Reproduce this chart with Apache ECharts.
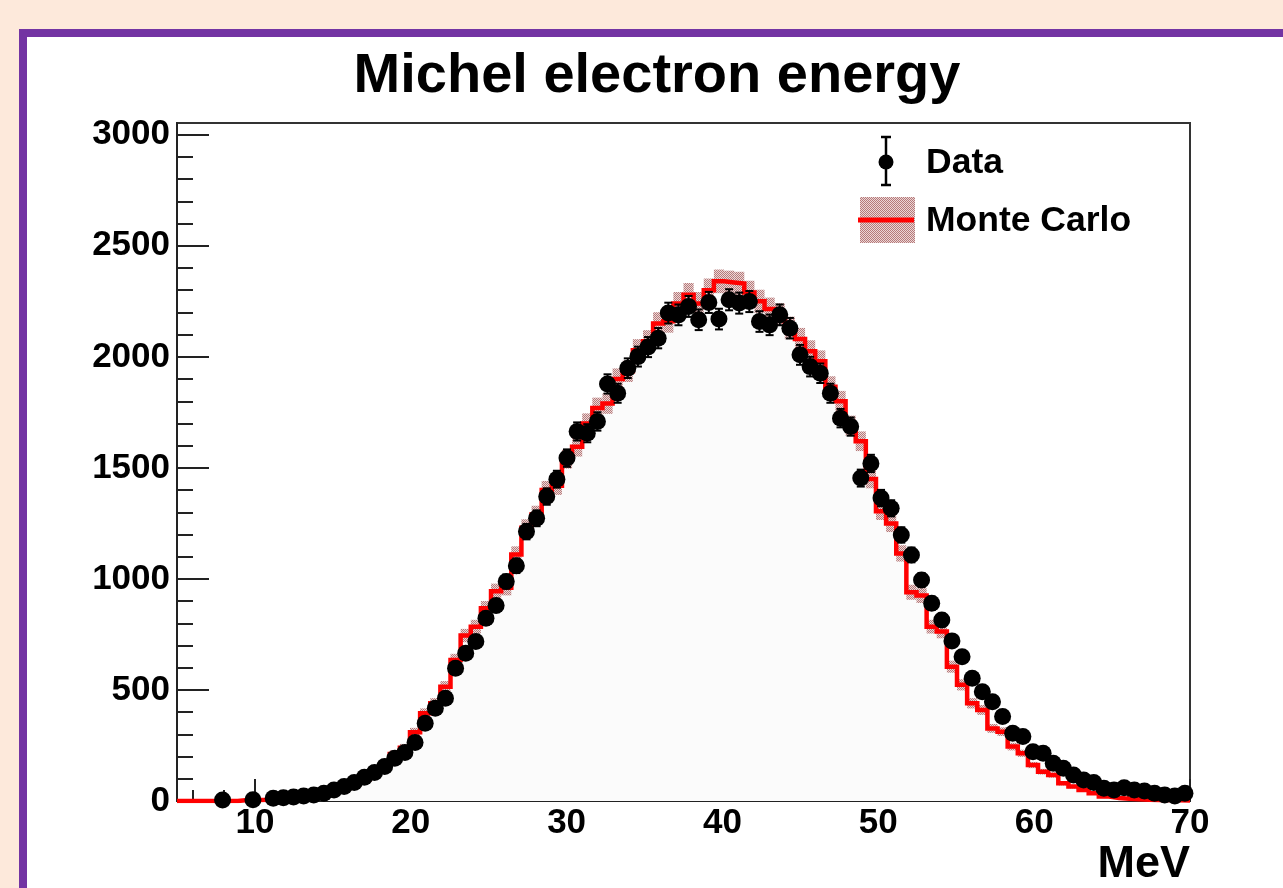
<!DOCTYPE html>
<html>
<head>
<meta charset="utf-8">
<script src="https://cdn.jsdelivr.net/npm/echarts@6/dist/echarts.min.js"></script>
<style>
html,body{margin:0;padding:0;background:#fde9db;overflow:hidden;}
#chart{width:1283px;height:888px;}
</style>
</head>
<body>
<div id="chart"></div>
<script>
// ---- histogram binning ----
const binLow = 5;
const binHigh = 70;
const nBins = 100;

// ---- Data counts per bin (null = empty bin, not drawn) ----
const dataCounts = [
  null, null, null, null, 4, null, null, 6, null, 12,
  15, 18, 22, 27, 35, 50, 65, 83, 107, 128,
  155, 192, 218, 263, 350, 418, 463, 598, 665, 718,
  823, 880, 988, 1059, 1213, 1273, 1371, 1449, 1544, 1664,
  1656, 1709, 1878, 1836, 1949, 2001, 2044, 2084, 2197, 2189,
  2227, 2167, 2245, 2170, 2257, 2242, 2249, 2159, 2144, 2189,
  2129, 2009, 1956, 1926, 1836, 1724, 1686, 1454, 1520, 1364,
  1318, 1198, 1108, 995, 890, 815, 721, 650, 553, 492,
  447, 380, 305, 290, 222, 215, 170, 147, 117, 95,
  83, 57, 50, 60, 50, 45, 35, 27, 22, 35
];

// ---- Monte Carlo counts per bin ----
const mcCounts = [
  0, 0, 0, 0, 0, 0, 5, 5, 6, 10,
  12, 15, 20, 26, 34, 45, 58, 76, 98, 124,
  160, 212, 240, 310, 395, 440, 515, 635, 745, 785,
  868, 945, 960, 1110, 1230, 1290, 1400, 1420, 1540, 1595,
  1700, 1770, 1790, 1900, 1935, 2030, 2070, 2150, 2160, 2240,
  2280, 2240, 2300, 2340, 2335, 2330, 2290, 2250, 2215, 2190,
  2130, 2080, 2025, 1980, 1865, 1800, 1690, 1620, 1450, 1305,
  1250, 1115, 940, 925, 785, 763, 605, 523, 440, 410,
  327, 312, 245, 215, 162, 132, 117, 80, 65, 50,
  35, 20, 14, 10, 8, 6, 5, 4, 3, 2
];

// ---- axis ticks ----
const xMajorTicks = [10, 20, 30, 40, 50, 60, 70];
const xMinorTicks = [6, 8, 12, 14, 16, 18, 22, 24, 26, 28, 32, 34, 36, 38, 42, 44, 46, 48, 52, 54, 56, 58, 62, 64, 66, 68];
const yMajorTicks = [0, 500, 1000, 1500, 2000, 2500, 3000];
const yMinorTicks = [100, 200, 300, 400, 600, 700, 800, 900, 1100, 1200, 1300, 1400, 1600, 1700, 1800, 1900, 2100, 2200, 2300, 2400, 2600, 2700, 2800, 2900];

const titleText = 'Michel electron energy';
const xAxisTitle = 'MeV';
const legendData = 'Data';
const legendMC = 'Monte Carlo';

// ---- derived ----
const binW = (binHigh - binLow) / nBins;
const centers = dataCounts.map((_, i) => binLow + (i + 0.5) * binW);
const dataPoints = [];
dataCounts.forEach((v, i) => { if (v !== null) dataPoints.push([centers[i], v]); });
const bandItems = [];
mcCounts.forEach((v, i) => { if (v > 0) bandItems.push([centers[i], v]); });
const stepPts = [];
mcCounts.forEach((v, i) => {
  stepPts.push([binLow + i * binW, v]);
  stepPts.push([binLow + (i + 1) * binW, v]);
});

// hatched pattern for MC error band
const pat = document.createElement('canvas');
pat.width = 2; pat.height = 2;
const pg = pat.getContext('2d');
pg.fillStyle = '#ecd6d6'; pg.fillRect(0, 0, 2, 2);
pg.fillStyle = '#b57a7a'; pg.fillRect(0, 0, 1, 1); pg.fillRect(1, 1, 1, 1);
const patFill = { image: pat, repeat: 'repeat' };

const FONT = '"Liberation Sans", Arial, Helvetica, sans-serif';
const yMax = 3053;
const plain = v => String(v);

const chart = echarts.init(document.getElementById('chart'), null, { renderer: 'canvas' });

const option = {
  animation: false,
  backgroundColor: '#fde9db',
  grid: {
    left: 177, right: 93, top: 123, bottom: 87,
    show: true, backgroundColor: '#ffffff', borderColor: '#333333', borderWidth: 2
  },
  xAxis: [
    {
      type: 'value', min: binLow, max: binHigh, position: 'bottom',
      axisLine: { show: true, onZero: false, lineStyle: { color: '#222', width: 2 } },
      axisTick: { show: true, inside: true, length: 22, customValues: xMajorTicks, lineStyle: { color: '#222', width: 2 } },
      axisLabel: { show: true, customValues: xMajorTicks, formatter: plain, margin: 5, color: '#000', fontSize: 35, fontWeight: 'bold', fontFamily: FONT },
      splitLine: { show: false }
    },
    {
      type: 'value', min: binLow, max: binHigh, position: 'bottom', offset: 0,
      axisLine: { show: false, onZero: false },
      axisTick: { show: true, inside: true, length: 11, customValues: xMinorTicks, lineStyle: { color: '#222', width: 2 } },
      axisLabel: { show: false },
      splitLine: { show: false }
    }
  ],
  yAxis: [
    {
      type: 'value', min: 0, max: yMax, position: 'left',
      axisLine: { show: true, onZero: false, lineStyle: { color: '#222', width: 2 } },
      axisTick: { show: true, inside: true, length: 32, customValues: yMajorTicks, lineStyle: { color: '#222', width: 2 } },
      axisLabel: { show: true, customValues: yMajorTicks, formatter: plain, margin: 7, color: '#000', fontSize: 35, fontWeight: 'bold', fontFamily: FONT },
      splitLine: { show: false }
    },
    {
      type: 'value', min: 0, max: yMax, position: 'left', offset: 0,
      axisLine: { show: false, onZero: false },
      axisTick: { show: true, inside: true, length: 16, customValues: yMinorTicks, lineStyle: { color: '#222', width: 2 } },
      axisLabel: { show: false },
      splitLine: { show: false }
    }
  ],
  series: [
    {
      name: 'MC fill', type: 'line', xAxisIndex: 0, yAxisIndex: 0,
      data: stepPts, symbol: 'none', lineStyle: { width: 0 },
      areaStyle: { color: '#fbfbfb', opacity: 1 }, z: 1, silent: true
    },
    {
      name: 'MC band', type: 'custom', xAxisIndex: 0, yAxisIndex: 0, z: 2,
      data: bandItems, clip: true,
      encode: { x: 0, y: 1 },
      renderItem: function (params, api) {
        const c = api.value(0), v = api.value(1);
        const e = 1.1 * Math.sqrt(v);
        const p1 = api.coord([c - binW / 2, v + e]);
        const p2 = api.coord([c + binW / 2, v - e]);
        return {
          type: 'rect',
          shape: { x: p1[0], y: p1[1], width: p2[0] - p1[0], height: p2[1] - p1[1] },
          style: { fill: patFill }
        };
      }
    },
    {
      name: 'Monte Carlo', type: 'line', xAxisIndex: 0, yAxisIndex: 0, z: 3,
      data: stepPts, symbol: 'none',
      lineStyle: { color: '#ff0000', width: 4.5, join: 'miter', cap: 'butt', opacity: 1 }
    },
    {
      name: 'Data errors', type: 'custom', xAxisIndex: 0, yAxisIndex: 0, z: 4,
      data: dataPoints, encode: { x: 0, y: 1 },
      renderItem: function (params, api) {
        const c = api.value(0), v = api.value(1);
        const e = Math.sqrt(v);
        const t = api.coord([c, v + e]);
        const b = api.coord([c, Math.max(0, v - e)]);
        const cap = 4;
        const st = { stroke: '#000', lineWidth: 2 };
        return {
          type: 'group', children: [
            { type: 'line', shape: { x1: t[0], y1: t[1], x2: b[0], y2: b[1] }, style: st },
            { type: 'line', shape: { x1: t[0] - cap, y1: t[1], x2: t[0] + cap, y2: t[1] }, style: st },
            { type: 'line', shape: { x1: b[0] - cap, y1: b[1], x2: b[0] + cap, y2: b[1] }, style: st }
          ]
        };
      }
    },
    {
      name: 'Data', type: 'scatter', xAxisIndex: 0, yAxisIndex: 0, z: 5,
      data: dataPoints, symbol: 'circle', symbolSize: 17,
      itemStyle: { color: '#000', opacity: 1 }
    }
  ],
  graphic: [
    { type: 'rect', z: -10, shape: { x: 23, y: 33, width: 1300, height: 900 },
      style: { fill: '#ffffff', stroke: '#7334a3', lineWidth: 8 } },
    { type: 'text', z: 10, x: 657, y: 77,
      style: { text: titleText, fill: '#000', font: 'bold 56px ' + FONT, textAlign: 'center', textVerticalAlign: 'middle' } },
    { type: 'text', z: 10, x: 1190, y: 865,
      style: { text: xAxisTitle, fill: '#000', font: 'bold 45px ' + FONT, textAlign: 'right', textVerticalAlign: 'middle' } },
    // legend: Data
    { type: 'line', z: 10, shape: { x1: 886, y1: 137, x2: 886, y2: 185 }, style: { stroke: '#000', lineWidth: 2.5 } },
    { type: 'line', z: 10, shape: { x1: 881, y1: 137, x2: 891, y2: 137 }, style: { stroke: '#000', lineWidth: 2.5 } },
    { type: 'line', z: 10, shape: { x1: 881, y1: 185, x2: 891, y2: 185 }, style: { stroke: '#000', lineWidth: 2.5 } },
    { type: 'circle', z: 10, shape: { cx: 886, cy: 162, r: 7.5 }, style: { fill: '#000' } },
    { type: 'text', z: 10, x: 926, y: 163,
      style: { text: legendData, fill: '#000', font: 'bold 35.5px ' + FONT, textAlign: 'left', textVerticalAlign: 'middle' } },
    // legend: Monte Carlo
    { type: 'rect', z: 10, shape: { x: 860, y: 197, width: 55, height: 46 }, style: { fill: patFill } },
    { type: 'line', z: 11, shape: { x1: 858, y1: 220, x2: 914, y2: 220 }, style: { stroke: '#ff0000', lineWidth: 5 } },
    { type: 'text', z: 10, x: 926, y: 221,
      style: { text: legendMC, fill: '#000', font: 'bold 35.5px ' + FONT, textAlign: 'left', textVerticalAlign: 'middle' } }
  ]
};

chart.setOption(option);
</script>
</body>
</html>
